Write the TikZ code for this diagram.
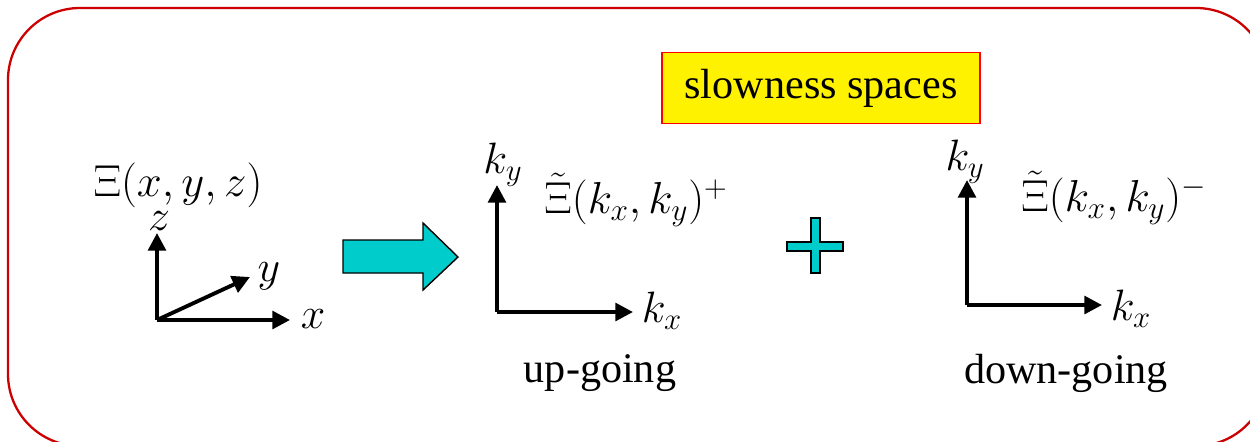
\RequirePackage{fix-cm}
\documentclass[tikz,border=0pt]{standalone}
\usepackage[no-math]{fontspec}
\setmainfont{Liberation Serif}
\usetikzlibrary{arrows.meta,positioning}
\definecolor{framered}{RGB}{204,0,0}
\definecolor{blockcyan}{RGB}{0,204,204}
\tikzset{
  axis/.style={line width=2.2pt, -{Triangle[length=10pt,width=10pt]}},
  axislbl/.style={font=\fontsize{25}{29}\selectfont, inner sep=0pt},
  formula/.style={font=\fontsize{25.5}{30}\selectfont, inner sep=0pt},
  caption/.style={font=\fontsize{24}{28}\selectfont, inner sep=0pt},
  block/.style={fill=blockcyan, draw=black, line width=0.8pt},
}
\begin{document}
\begin{tikzpicture}[x=0.02cm, y=-0.02cm]
    \useasboundingbox (0,0) rectangle (1250,441);
    \clip (0,0) rectangle (1250,441);

    % Frame
    \draw[framered, line width=1.3pt, rounded corners=1.44cm] (8,8) rectangle (1268,446);

    % Title box
    \node[draw=red, fill=yellow, line width=0.8pt, minimum width=6.36cm, minimum height=1.42cm,
          font=\fontsize{24}{28}\selectfont] (title) at (821,88) {slowness spaces};

    % Space domain
    \node[formula] (xi) at (178,185) {$\Xi(x,y,z)$};
    \coordinate (o) at (157,320);
    \coordinate (zt) at (157,233);
    \coordinate (xt) at (290,320);
    \coordinate (yt) at (250,277);
    \draw[axis] (o) -- (zt);
    \draw[axis] (o) -- (xt);
    \draw[axis] (o) -- (yt);
    \node[axislbl] (zl) at (159,221) {$z$};
    \node[axislbl] (xl) at (313,319) {$x$};
    \node[axislbl] (yl) at (269,276) {$y$};

    % Transform arrow
    \draw[block] (343,240) -- (423,240) -- (423,223) -- (458,257) -- (423,290)
                 -- (423,273) -- (343,273) -- cycle;

    % Up-going
    \coordinate (ou) at (497,312);
    \coordinate (kyu) at (497,185);
    \coordinate (kxu) at (633,312);
    \draw[axis] (ou) -- (kyu);
    \draw[axis] (ou) -- (kxu);
    \node[axislbl] (kyul) at (503,165) {$k_{y}$};
    \node[axislbl] (kxul) at (662,311) {$k_{x}$};
    \node[formula] (xiup) at (636,200) {$\tilde{\Xi}(k_x,k_y)^+$};
    \node[caption] (up) at (600,373) {up-going};

    % Plus sign
    \draw[block] (787,242) -- (811,242) -- (811,218) -- (820,218) -- (820,242) -- (843,242)
                 -- (843,251) -- (820,251) -- (820,273) -- (811,273) -- (811,251) -- (787,251) -- cycle;

    % Down-going
    \coordinate (od) at (967,305);
    \coordinate (kyd) at (967,180);
    \coordinate (kxd) at (1102,305);
    \draw[axis] (od) -- (kyd);
    \draw[axis] (od) -- (kxd);
    \node[axislbl] (kydl) at (965,162) {$k_{y}$};
    \node[axislbl] (kxdl) at (1131,309) {$k_{x}$};
    \node[formula] (xidown) at (1114,198) {$\tilde{\Xi}(k_x,k_y)^-$};
    \node[caption] (down) at (1066,373) {down-going};

\end{tikzpicture}
\end{document}
